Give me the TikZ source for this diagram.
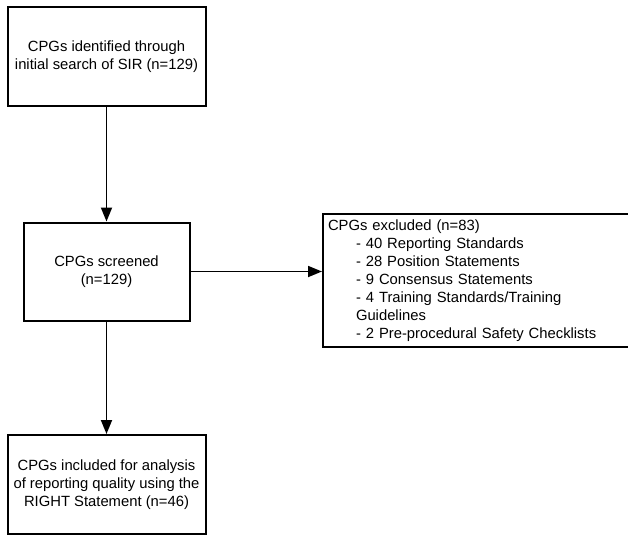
\documentclass[tikz,border=0pt]{standalone}
\usepackage{fontspec}
\setmainfont{Liberation Sans}
\usepackage{tikz}
\usetikzlibrary{arrows.meta}

\tikzset{
  box/.style={draw, line width=2pt, align=center, inner sep=0pt},
  flow/.style={line width=1.8pt, -{Triangle[length=14pt,width=11pt]}}
}

\begin{document}
\begin{tikzpicture}[x=1pt,y=-1pt,font=\fontsize{14.8}{18}\selectfont]
\useasboundingbox (0,0) rectangle (628,536);
\node[box, minimum width=198pt, minimum height=99pt](ident) at (106.5,56.5){CPGs identified through\\initial search of SIR (n=129)};
\node[box, minimum width=166pt, minimum height=98pt](screen) at (106.5,271.5){CPGs screened\\(n=129)};
\node[box, minimum width=198pt, minimum height=99pt](incl) at (106.5,484.5){CPGs included for analysis\\of reporting quality using the\\RIGHT Statement (n=46)};
\node[box, anchor=north west, align=left, inner xsep=5pt, text width=300pt, minimum height=133pt](excl) at (322,213){CPGs excluded (n=83)\\
\hspace*{28pt}- 40 Reporting Standards\\
\hspace*{28pt}- 28 Position Statements\\
\hspace*{28pt}- 9 Consensus Statements\\
\hspace*{28pt}- 4 Training Standards/Training\\
\hspace*{28pt}Guidelines\\
\hspace*{28pt}- 2 Pre-procedural Safety Checklists};
\draw[flow](ident)--(screen);
\draw[flow](screen)--(incl);
\draw[flow](screen.east)--(screen.east-|excl.west);
\end{tikzpicture}
\end{document}
